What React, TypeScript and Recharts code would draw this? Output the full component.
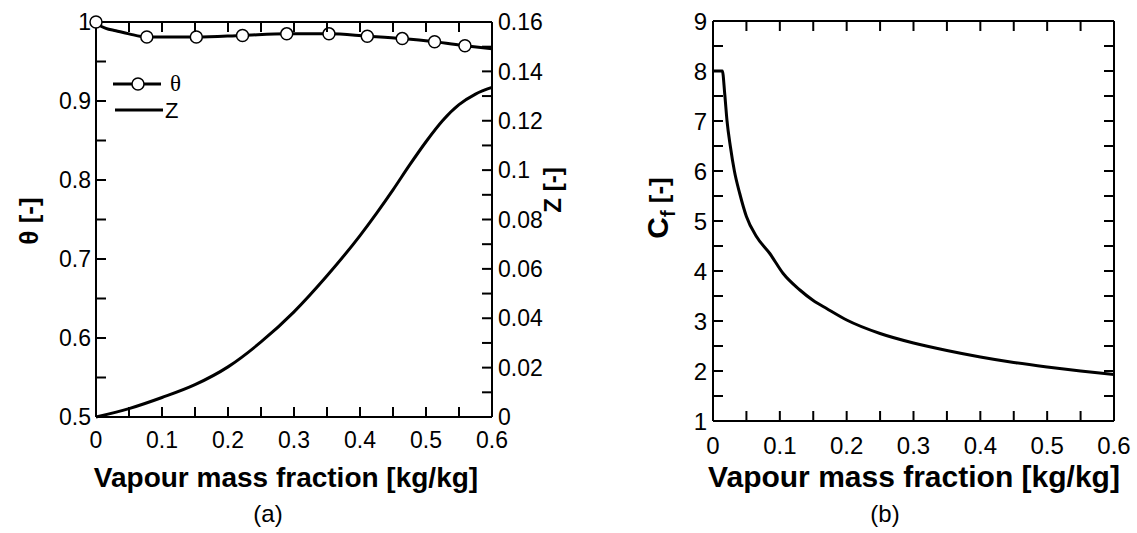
import React from 'react';
import { ComposedChart, Line, XAxis, YAxis, Legend } from 'recharts';

// tick positions (minor ticks get an empty label)
const xTicks = [0, 0.05, 0.1, 0.15, 0.2, 0.25, 0.3, 0.35, 0.4, 0.45, 0.5, 0.55, 0.6];
const thetaTicks = [0.5, 0.55, 0.6, 0.65, 0.7, 0.75, 0.8, 0.85, 0.9, 0.95, 1];
const zTicks = [0, 0.01, 0.02, 0.03, 0.04, 0.05, 0.06, 0.07, 0.08, 0.09, 0.1, 0.11, 0.12, 0.13, 0.14, 0.15, 0.16];
const cfTicks = [1, 1.5, 2, 2.5, 3, 3.5, 4, 4.5, 5, 5.5, 6, 6.5, 7, 7.5, 8, 8.5, 9];

// (a) theta curve
const thetaX = [0, 0.005, 0.015, 0.03, 0.05, 0.077, 0.152, 0.222, 0.289, 0.353, 0.411, 0.464, 0.513, 0.559, 0.6];
const thetaY = [1.0, 0.996, 0.992, 0.989, 0.985, 0.981, 0.981, 0.983, 0.985, 0.985, 0.982, 0.979, 0.975, 0.97, 0.966];

// (a) theta markers
const markX = [0, 0.077, 0.152, 0.222, 0.289, 0.353, 0.411, 0.464, 0.513, 0.559];
const markY = [1.0, 0.981, 0.981, 0.983, 0.985, 0.985, 0.982, 0.979, 0.975, 0.97];

// (a) Z curve (right axis)
const zX = [0, 0.05, 0.1, 0.15, 0.2, 0.25, 0.3, 0.35, 0.4, 0.425, 0.45, 0.475, 0.5, 0.525, 0.55, 0.575, 0.6];
const zY = [0, 0.0034, 0.0079, 0.0131, 0.0203, 0.0304, 0.0426, 0.0572, 0.0735, 0.0825, 0.092, 0.102, 0.1115, 0.12, 0.1265, 0.1308, 0.1335];

// (b) Cf curve
const cfX = [0, 0.014, 0.0175, 0.021, 0.026, 0.032, 0.04, 0.05, 0.065, 0.085, 0.105, 0.13, 0.15, 0.17, 0.2, 0.25, 0.3, 0.35, 0.4, 0.45, 0.5, 0.55, 0.6];
const cfY = [8, 8, 7.55, 7.0, 6.49, 6.0, 5.55, 5.09, 4.69, 4.35, 3.95, 3.62, 3.41, 3.25, 3.02, 2.75, 2.56, 2.41, 2.28, 2.17, 2.08, 2.0, 1.93];

const thetaData = thetaX.map((x, i) => ({ x, theta: thetaY[i] }));
const markData = markX.map((x, i) => ({ x, theta: markY[i] }));
const zData = zX.map((x, i) => ({ x, z: zY[i] }));
const cfData = cfX.map((x, i) => ({ x, cf: cfY[i] }));

const SANS = '"Liberation Sans", Arial, Helvetica, sans-serif';
const SERIF = '"Liberation Serif", "Times New Roman", serif';

const axisLine = { stroke: '#000', strokeWidth: 2 };
const TICK_LEN = 10;
const TICK_W = 2;

const fmtTenth = (v: number) => (Math.round(v * 100) % 10 === 0 ? String(Number(v.toFixed(1))) : '');
const fmtZ = (v: number) => (Math.round(v * 100) % 2 === 0 ? String(Number(v.toFixed(2))) : '');
const fmtInt = (v: number) => (Number.isInteger(v) ? String(v) : '');
const fmtNone = () => '';

type Orient = 'bottom' | 'top' | 'left' | 'right';

// inward tick line plus label; the axis tickSize is 0, so (x, y) sits `margin` px away from the axis line
const makeTick = (orient: Orient, fmt: (v: number) => string, fontSize: number, margin: number) => (props: any) => {
  const { x, y, payload, index, visibleTicksCount } = props;
  const label = fmt(payload.value);
  // the first and last ticks fall on the frame corners
  const atEnd = index === 0 || index === visibleTicksCount - 1;
  let d = '';
  let text = null;
  if (orient === 'bottom') {
    const ay = y - margin;
    d = `M${x},${ay}V${ay - TICK_LEN}`;
    if (label) text = <text x={x} y={y} dy={fontSize * 0.71} textAnchor="middle" fontFamily={SANS} fontSize={fontSize} fill="#000">{label}</text>;
  } else if (orient === 'top') {
    const ay = y + margin;
    d = `M${x},${ay}V${ay + TICK_LEN}`;
  } else if (orient === 'left') {
    const ax = x + margin;
    d = `M${ax},${y}H${ax + TICK_LEN}`;
    if (label) text = <text x={x} y={y} dy={fontSize * 0.355} textAnchor="end" fontFamily={SANS} fontSize={fontSize} fill="#000">{label}</text>;
  } else {
    const ax = x - margin;
    d = `M${ax},${y}H${ax - TICK_LEN}`;
    if (label) text = <text x={x} y={y} dy={fontSize * 0.355} textAnchor="start" fontFamily={SANS} fontSize={fontSize} fill="#000">{label}</text>;
  }
  return (
    <g>
      {!atEnd && <path d={d} stroke="#000" strokeWidth={TICK_W} fill="none" />}
      {text}
    </g>
  );
};

const ThetaLegend = () => (
  <svg width={120} height={60} style={{ overflow: 'visible' }}>
    <line x1={5} y1={14} x2={53} y2={14} stroke="#000" strokeWidth={3} />
    <circle cx={30} cy={14} r={6} fill="#fff" stroke="#000" strokeWidth={1.5} />
    <text x={62} y={14} dy={7} fontFamily={SERIF} fontSize={23} fill="#000">θ</text>
    <line x1={7} y1={40} x2={55} y2={40} stroke="#000" strokeWidth={3} />
    <text x={57} y={40} dy={8} fontFamily={SANS} fontSize={22} fill="#000">Z</text>
  </svg>
);

const App: React.FC = () => {
  return (
    <div style={{ position: 'absolute', left: 0, top: 0, width: 1137, height: 533, background: '#fff' }}>
      {/* panel (a) */}
      <div style={{ position: 'absolute', left: 0, top: 0 }}>
        <ComposedChart width={580} height={533} margin={{ top: 21, right: 0, bottom: 0, left: 0 }}>
          <XAxis
            xAxisId="b"
            dataKey="x"
            type="number"
            domain={[0, 0.6]}
            ticks={xTicks}
            interval={0}
            height={116}
            tickSize={0}
            tickMargin={15}
            axisLine={axisLine}
            tickLine={false}
            tick={makeTick('bottom', fmtTenth, 23, 15)}
            label={() => (
              <g>
                <text x={286} y={487} textAnchor="middle" fontFamily={SANS} fontWeight="bold" fontSize={28} fill="#000">
                  Vapour mass fraction [kg/kg]
                </text>
                <text x={268} y={522} textAnchor="middle" fontFamily={SANS} fontSize={24} fill="#000">(a)</text>
              </g>
            )}
          />
          <XAxis
            xAxisId="t"
            dataKey="x"
            type="number"
            orientation="top"
            domain={[0, 0.6]}
            ticks={xTicks}
            interval={0}
            height={1}
            tickSize={0}
            tickMargin={5}
            axisLine={axisLine}
            tickLine={false}
            tick={makeTick('top', fmtNone, 10, 5)}
          />
          <YAxis
            yAxisId="th"
            dataKey="theta"
            type="number"
            domain={[0.5, 1]}
            ticks={thetaTicks}
            interval={0}
            width={96}
            tickSize={0}
            tickMargin={5}
            axisLine={axisLine}
            tickLine={false}
            tick={makeTick('left', fmtTenth, 23, 5)}
            label={() => (
              <text x={29} y={221} dy={9} transform="rotate(-90 29 221)" textAnchor="middle" fontFamily={SANS} fontWeight="bold" fontSize={26} fill="#000">
                θ [-]
              </text>
            )}
          />
          <YAxis
            yAxisId="z"
            dataKey="z"
            type="number"
            orientation="right"
            domain={[0, 0.16]}
            ticks={zTicks}
            interval={0}
            width={88}
            tickSize={0}
            tickMargin={6}
            axisLine={axisLine}
            tickLine={false}
            tick={makeTick('right', fmtZ, 23, 6)}
            label={() => (
              <text x={553} y={190} dy={8} transform="rotate(-90 553 190)" textAnchor="middle" fontFamily={SANS} fontWeight="bold" fontSize={24} fill="#000">
                Z [-]
              </text>
            )}
          />
          {/* invisible copy so the top axis has a series of its own */}
          <Line xAxisId="t" yAxisId="th" data={thetaData} dataKey="theta" stroke="none" dot={false} activeDot={false} isAnimationActive={false} />
          <Line xAxisId="b" yAxisId="z" data={zData} dataKey="z" type="monotone" stroke="#000" strokeWidth={3} dot={false} isAnimationActive={false} />
          <Line xAxisId="b" yAxisId="th" data={thetaData} dataKey="theta" type="monotone" stroke="#000" strokeWidth={3} dot={false} isAnimationActive={false} />
          <Line
            xAxisId="b"
            yAxisId="th"
            data={markData}
            dataKey="theta"
            stroke="none"
            strokeWidth={0}
            dot={{ r: 6, fill: '#fff', stroke: '#000', strokeWidth: 1.5 }}
            isAnimationActive={false}
          />
          <Legend
            layout="horizontal"
            verticalAlign="middle"
            align="center"
            wrapperStyle={{ left: 108, top: 70, width: 120, height: 60 }}
            content={() => <ThetaLegend />}
          />
        </ComposedChart>
      </div>

      {/* panel (b) */}
      <div style={{ position: 'absolute', left: 600, top: 0 }}>
        <ComposedChart width={537} height={533} margin={{ top: 20, right: 22, bottom: 0, left: 0 }}>
          <XAxis
            xAxisId="b"
            dataKey="x"
            type="number"
            domain={[0, 0.6]}
            ticks={xTicks}
            interval={0}
            height={112}
            tickSize={0}
            tickMargin={16}
            axisLine={axisLine}
            tickLine={false}
            tick={makeTick('bottom', fmtTenth, 24, 16)}
            label={() => (
              <g>
                <text x={314} y={487} textAnchor="middle" fontFamily={SANS} fontWeight="bold" fontSize={30} fill="#000">
                  Vapour mass fraction [kg/kg]
                </text>
                <text x={285} y={522} textAnchor="middle" fontFamily={SANS} fontSize={24} fill="#000">(b)</text>
              </g>
            )}
          />
          <XAxis
            xAxisId="t"
            dataKey="x"
            type="number"
            orientation="top"
            domain={[0, 0.6]}
            ticks={xTicks}
            interval={0}
            height={1}
            tickSize={0}
            tickMargin={5}
            axisLine={axisLine}
            tickLine={false}
            tick={makeTick('top', fmtNone, 10, 5)}
          />
          <YAxis
            yAxisId="cf"
            dataKey="cf"
            type="number"
            domain={[1, 9]}
            ticks={cfTicks}
            interval={0}
            width={113}
            tickSize={0}
            tickMargin={6}
            axisLine={axisLine}
            tickLine={false}
            tick={makeTick('left', fmtInt, 24, 6)}
            label={() => (
              <text x={58} y={208} transform="rotate(-90 58 208)" textAnchor="middle" fontFamily={SANS} fontWeight="bold" fill="#000">
                <tspan fontSize={30} dy={10}>C</tspan>
                <tspan fontSize={20} dy={7}>f</tspan>
                <tspan fontSize={26} dy={-7}> [-]</tspan>
              </text>
            )}
          />
          <YAxis
            yAxisId="r"
            dataKey="cf"
            type="number"
            orientation="right"
            domain={[1, 9]}
            ticks={cfTicks}
            interval={0}
            width={1}
            tickSize={0}
            tickMargin={5}
            axisLine={axisLine}
            tickLine={false}
            tick={makeTick('right', fmtNone, 10, 5)}
          />
          {/* invisible copy so the top and right axes have a series of their own */}
          <Line xAxisId="t" yAxisId="r" data={cfData} dataKey="cf" stroke="none" dot={false} activeDot={false} isAnimationActive={false} />
          <Line xAxisId="b" yAxisId="cf" data={cfData} dataKey="cf" type="monotone" stroke="#000" strokeWidth={3} dot={false} isAnimationActive={false} />
        </ComposedChart>
      </div>
    </div>
  );
};

export default App;
